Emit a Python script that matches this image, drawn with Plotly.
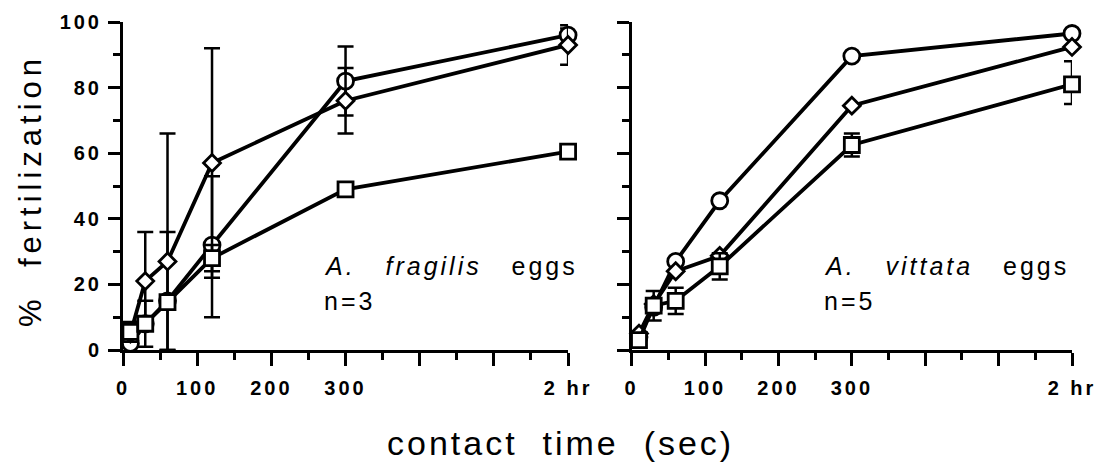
import plotly.graph_objects as go

# ---- data ----
time_sec = [10, 30, 60, 120, 300, 7200]      # last point = 2 hr (axis break)
BREAK_POS = 600                              # where "2 hr" sits on the axis
x_tick_vals = [0, 100, 200, 300, 400, 500, 600]
x_tick_text = ["0", "100", "200", "300", "", "", "2 hr"]
y_tick_vals = [0, 20, 40, 60, 80, 100]
y_tick_text = ["0", "20", "40", "60", "80", "100"]

# A. fragilis eggs (n=3)
frag_circle = [2, 8, 15, 32, 82, 96]
frag_circle_up = [0, 0, 21, 21, 10.5, 2]
frag_circle_dn = [0, 0, 15, 22, 10.5, 0]
frag_diamond = [5, 21, 27, 57, 76, 93]
frag_diamond_up = [0, 15, 39, 35, 10, 6]
frag_diamond_dn = [0, 15, 27, 35, 10, 6]
frag_square = [5.5, 8, 14.6, 28, 49, 60.5]
frag_square_up = [3, 7, 0, 4, 0, 0]
frag_square_dn = [3, 7, 0, 4, 0, 0]

# A. vittata eggs (n=5)
vitt_circle = [4, 13, 27, 45.5, 89.6, 96.5]
vitt_diamond = [5, 14, 24, 28.7, 74.5, 92.4]
vitt_square = [3, 13.5, 15, 25.5, 62.5, 81]
vitt_square_up = [2, 4.5, 4, 4, 3.5, 7]
vitt_square_dn = [2, 4.5, 4, 4, 3.5, 6]

xpos = [t if t <= 300 else BREAK_POS for t in time_sec]

FONT = "Arial, 'Liberation Sans', Helvetica, sans-serif"


def spaced(s, ls):
    return f'<span style="letter-spacing:{ls}px">{s}</span>' if s else ""


fig = go.Figure()


def add(y, symbol, size, xa, ya, up=None, dn=None):
    err = None
    if up is not None:
        err = dict(type="data", array=up, arrayminus=dn, visible=True,
                   color="black", thickness=2.5, width=8)
    fig.add_trace(go.Scatter(
        x=xpos, y=y, mode="lines+markers", xaxis=xa, yaxis=ya,
        line=dict(color="black", width=3.8),
        marker=dict(symbol=symbol, size=size, color="white",
                    line=dict(color="black", width=2.8)),
        error_y=err, cliponaxis=False, showlegend=False, hoverinfo="x+y"))


add(frag_circle, "circle", 16, "x", "y", frag_circle_up, frag_circle_dn)
add(frag_diamond, "diamond", 13, "x", "y", frag_diamond_up, frag_diamond_dn)
add(frag_square, "square", 15, "x", "y", frag_square_up, frag_square_dn)
add(vitt_circle, "circle", 16, "x2", "y2")
add(vitt_diamond, "diamond", 13, "x2", "y2")
add(vitt_square, "square", 15, "x2", "y2", vitt_square_up, vitt_square_dn)

axis_common = dict(showline=True, linecolor="black", linewidth=3,
                   ticks="outside", tickcolor="black", tickwidth=3,
                   showgrid=False, zeroline=False, automargin=False,
                   tickfont=dict(family=FONT, size=20, color="black",
                                 weight="bold"))

xa = dict(axis_common, range=[0, 600], tickmode="array",
          tickvals=x_tick_vals, ticktext=[spaced(t, 3) for t in x_tick_text],
          ticklen=13, ticklabelstandoff=5,
          minor=dict(dtick=50, ticklen=7, tickwidth=3, tickcolor="black",
                     ticks="outside"))
ya = dict(axis_common, range=[0, 100], tickmode="array",
          tickvals=y_tick_vals, ticktext=[spaced(t, 3) for t in y_tick_text],
          ticklen=12, ticklabelstandoff=2,
          minor=dict(dtick=10, ticklen=7, tickwidth=3, tickcolor="black",
                     ticks="outside"))

fig.update_layout(
    width=1108, height=473,
    margin=dict(l=123, r=36, t=22, b=123),
    paper_bgcolor="white", plot_bgcolor="white",
    xaxis=dict(xa, domain=[0, 0.469], anchor="y"),
    yaxis=dict(ya, anchor="x"),
    xaxis2=dict(xa, domain=[0.536, 1], anchor="y2"),
    yaxis2=dict(ya, anchor="x2", showticklabels=False),
)

ann_font = dict(family=FONT, size=25, color="black")
NB = "&nbsp;"
annotations = [
    dict(x=0.2097, y=0.256,
         text=spaced(f"<i>A.</i>{NB*3}<i>fragilis</i>{NB*3}eggs", 3)),
    dict(x=0.2097, y=0.150, text=spaced("n=3", 3)),
    dict(x=0.7366, y=0.256,
         text=spaced(f"<i>A.</i>{NB*3}<i>vittata</i>{NB*3}eggs", 3)),
    dict(x=0.7366, y=0.150, text=spaced("n=5", 3)),
]
for a in annotations:
    fig.add_annotation(xref="paper", yref="paper", xanchor="left",
                       yanchor="middle", showarrow=False, font=ann_font, **a)

fig.add_annotation(xref="paper", yref="paper", x=0.4605, y=-0.2835,
                   text=spaced(f"contact{NB*2}time{NB*2}(sec)", 3),
                   showarrow=False, xanchor="center", yanchor="middle",
                   font=dict(family=FONT, size=34, color="black"))
fig.add_annotation(xref="paper", yref="paper", x=-0.097, y=0.488,
                   text=spaced(f"%{NB*2}fertilization", 5),
                   showarrow=False, textangle=-90,
                   xanchor="center", yanchor="middle",
                   font=dict(family=FONT, size=31, color="black"))

fig.write_html("out.html", config={"displayModeBar": False},
               post_script="document.body.style.margin='0';")
